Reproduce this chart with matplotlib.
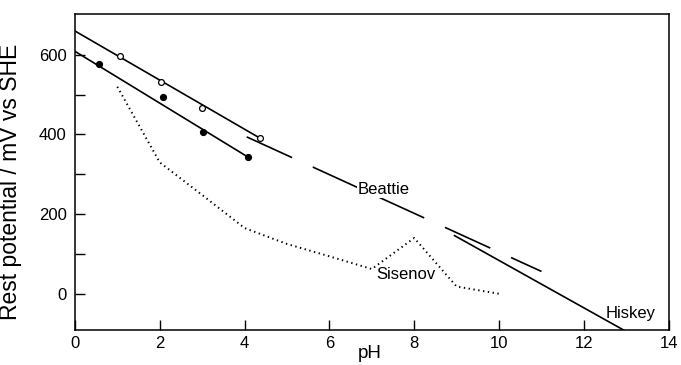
import matplotlib
matplotlib.use("Agg")
import matplotlib.pyplot as plt
from matplotlib.ticker import FixedLocator

plt.rcParams['font.family'] = ['Liberation Sans', 'DejaVu Sans']
plt.rcParams['lines.scale_dashes'] = False

# Measured rest potentials (mV vs SHE)
open_ph = [1.06, 2.02, 2.99, 4.36]
open_mv = [597, 531, 466, 391]
filled_ph = [0.57, 2.07, 3.01, 4.07]
filled_mv = [576, 495, 407, 344]

# Fitted lines through each data set
open_fit_ph = [0.0, 4.36]
open_fit_mv = [660, 391]
filled_fit_ph = [0.0, 4.07]
filled_fit_mv = [609, 344]

# Literature curves
beattie_ph = [4.05, 11.0]
beattie_mv = [394, 56]
hiskey_ph = [8.95, 13.0]
hiskey_mv = [146, -95]
sisenov_ph = [1, 2, 3, 4, 5, 6, 7, 8, 9, 10]
sisenov_mv = [520, 330, 248, 165, 125, 94, 62, 140, 18, 0]

fig = plt.figure(figsize=(6.81, 3.65), dpi=100)
ax = fig.add_axes([0.110, 0.096, 0.872, 0.866])

lw = 1.2
ax.plot(open_fit_ph, open_fit_mv, color='black', lw=lw)
ax.plot(filled_fit_ph, filled_fit_mv, color='black', lw=lw)
ax.plot(beattie_ph, beattie_mv, color='black', lw=lw,
        linestyle=(0, (35.9, 16.4)))
ax.plot(hiskey_ph, hiskey_mv, color='black', lw=lw)
ax.plot(sisenov_ph, sisenov_mv, color='black', lw=1.4,
        linestyle=(0, (1.0, 2.5)))

ax.plot(open_ph, open_mv, 'o', ms=4.2, mfc='white', mec='black', mew=0.9,
        zorder=5)
ax.plot(filled_ph, filled_mv, 'o', ms=4.2, mfc='black', mec='black',
        zorder=5)

lab_fs = 12
ax.text(6.67, 262, 'Beattie', fontsize=lab_fs, va='center', ha='left',
        bbox=dict(facecolor='white', edgecolor='none', pad=0.5), zorder=6)
ax.text(7.11, 48, 'Sisenov', fontsize=lab_fs, va='center', ha='left',
        bbox=dict(facecolor='white', edgecolor='none', pad=0.5), zorder=6)
ax.text(12.52, -50, 'Hiskey', fontsize=lab_fs, va='center', ha='left',
        zorder=6)

ax.set_xlim(0, 14)
ax.set_ylim(-91, 703)
ax.xaxis.set_major_locator(FixedLocator([0, 2, 4, 6, 8, 10, 12, 14]))
ax.yaxis.set_major_locator(FixedLocator([0, 200, 400, 600]))
ax.yaxis.set_minor_locator(FixedLocator([100, 300, 500]))

ax.tick_params(axis='both', which='both', direction='in', width=1.0,
               colors='black', labelsize=12)
ax.tick_params(axis='both', which='major', length=7)
ax.tick_params(axis='y', which='minor', length=7)
ax.tick_params(axis='x', pad=4)
ax.tick_params(axis='y', pad=6)

for s in ax.spines.values():
    s.set_linewidth(1.1)
    s.set_color('black')

ax.set_xlabel('pH', fontsize=13.5)
ax.set_ylabel('Rest potential / mV vs SHE', fontsize=16.5)
ax.xaxis.set_label_coords(0.497, -0.048)
ax.yaxis.set_label_coords(-0.089, 0.47)

fig.savefig('out.png', dpi=100)
